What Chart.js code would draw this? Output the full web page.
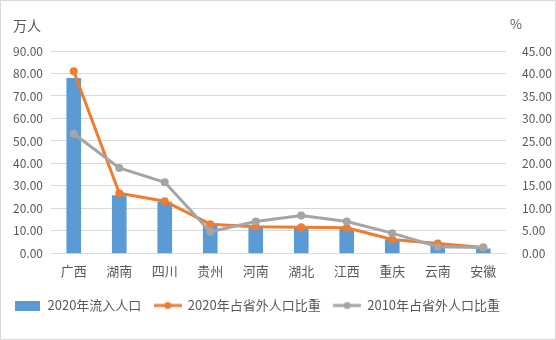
<!DOCTYPE html>
<html>
<head>
<meta charset="utf-8">
<script src="https://cdn.jsdelivr.net/npm/chart.js@4/dist/chart.umd.min.js"></script>
<style>
  html, body { margin: 0; padding: 0; background: #fff; }
  .wrap { width: 556px; height: 340px; box-sizing: border-box; border: 1px solid #d9d9d9; position: relative; }
  canvas { display: block; }
</style>
</head>
<body>
<div class="wrap"><canvas id="chart" width="554" height="338"></canvas></div>
<script>
const provinces = ["广西", "湖南", "四川", "贵州", "河南", "湖北", "江西", "重庆", "云南", "安徽"];
const inflow2020 = [77.8, 25.7, 22.8, 12.1, 11.6, 11.2, 11.2, 6.2, 3.7, 2.0];
const share2020 = [40.5, 13.4, 11.6, 6.5, 5.9, 5.8, 5.7, 3.1, 2.2, 1.3];
const share2010 = [26.6, 19.0, 15.8, 4.8, 7.1, 8.4, 7.1, 4.5, 1.5, 1.3];
const seriesNames = ["2020年流入人口", "2020年占省外人口比重", "2010年占省外人口比重"];

const blue = "#5B9BD5";
const orange = "#ED7D31";
const gray = "#A5A5A5";
const textColor = "#595959";
const fontFamily = "'Noto Sans CJK SC', 'DejaVu Sans', sans-serif";

function makeBoxIcon(color) {
  const c = document.createElement("canvas");
  c.width = 25;
  c.height = 10;
  const ctx = c.getContext("2d");
  ctx.fillStyle = color;
  ctx.fillRect(0, 0, 25, 10);
  return c;
}

function makeLineIcon(color) {
  const c = document.createElement("canvas");
  c.width = 28;
  c.height = 10;
  const ctx = c.getContext("2d");
  ctx.strokeStyle = color;
  ctx.lineWidth = 3;
  ctx.beginPath();
  ctx.moveTo(0, 5);
  ctx.lineTo(28, 5);
  ctx.stroke();
  ctx.fillStyle = color;
  ctx.beginPath();
  ctx.arc(14, 5, 3.5, 0, Math.PI * 2);
  ctx.fill();
  return c;
}

const legendIcons = [makeBoxIcon(blue), makeLineIcon(orange), makeLineIcon(gray)];

const unitLabels = {
  id: "unitLabels",
  afterDraw(chart) {
    const ctx = chart.ctx;
    ctx.save();
    ctx.fillStyle = textColor;
    ctx.font = "14px " + fontFamily;
    ctx.textBaseline = "middle";
    ctx.textAlign = "left";
    ctx.fillText("万人", 12, 25);
    ctx.font = "13px " + fontFamily;
    ctx.fillText("%", 509, 23);
    ctx.restore();
  },
};

new Chart(document.getElementById("chart").getContext("2d"), {
  type: "bar",
  data: {
    labels: provinces,
    datasets: [
      {
        type: "bar",
        label: seriesNames[0],
        data: inflow2020,
        backgroundColor: blue,
        barThickness: 14,
        yAxisID: "y",
        order: 3,
      },
      {
        type: "line",
        label: seriesNames[1],
        data: share2020,
        borderColor: orange,
        backgroundColor: orange,
        borderWidth: 3,
        pointRadius: 4,
        pointBackgroundColor: orange,
        pointBorderWidth: 0,
        tension: 0,
        yAxisID: "y1",
        order: 2,
      },
      {
        type: "line",
        label: seriesNames[2],
        data: share2010,
        borderColor: gray,
        backgroundColor: gray,
        borderWidth: 3,
        pointRadius: 4,
        pointBackgroundColor: gray,
        pointBorderWidth: 0,
        tension: 0,
        yAxisID: "y1",
        order: 1,
      },
    ],
  },
  options: {
    responsive: false,
    animation: false,
    layout: {
      padding: { top: 50, left: 0, right: 0, bottom: 17 },
    },
    plugins: {
      tooltip: { enabled: false },
      legend: {
        position: "bottom",
        align: "start",
        labels: {
          usePointStyle: true,
          pointStyleWidth: 27,
          padding: 13,
          color: textColor,
          font: { family: fontFamily, size: 13 },
          generateLabels(chart) {
            return chart.data.datasets.map((ds, i) => ({
              text: ds.label,
              pointStyle: legendIcons[i],
              fillStyle: ds.backgroundColor,
              strokeStyle: ds.backgroundColor,
              lineWidth: 0,
              hidden: false,
              datasetIndex: i,
              fontColor: textColor,
            }));
          },
        },
      },
    },
    scales: {
      x: {
        grid: { display: false },
        border: { color: "#d9d9d9" },
        ticks: {
          color: textColor,
          font: { family: fontFamily, size: 13 },
          padding: 2,
        },
        afterFit(scale) { scale.height += 5; },
      },
      y: {
        position: "left",
        min: 0,
        max: 90,
        ticks: {
          stepSize: 10,
          color: textColor,
          font: { family: fontFamily, size: 12 },
          padding: 8,
          callback: (v) => v.toFixed(2),
        },
        grid: { color: "#d9d9d9", drawTicks: false },
        border: { display: false },
        afterFit(scale) { scale.width = 50; },
      },
      y1: {
        position: "right",
        min: 0,
        max: 45,
        ticks: {
          stepSize: 5,
          color: textColor,
          font: { family: fontFamily, size: 12 },
          padding: 8,
          callback: (v) => v.toFixed(2),
        },
        grid: { display: false },
        border: { display: false },
        afterFit(scale) { scale.width = 49; },
      },
    },
  },
  plugins: [unitLabels],
});
</script>
</body>
</html>
